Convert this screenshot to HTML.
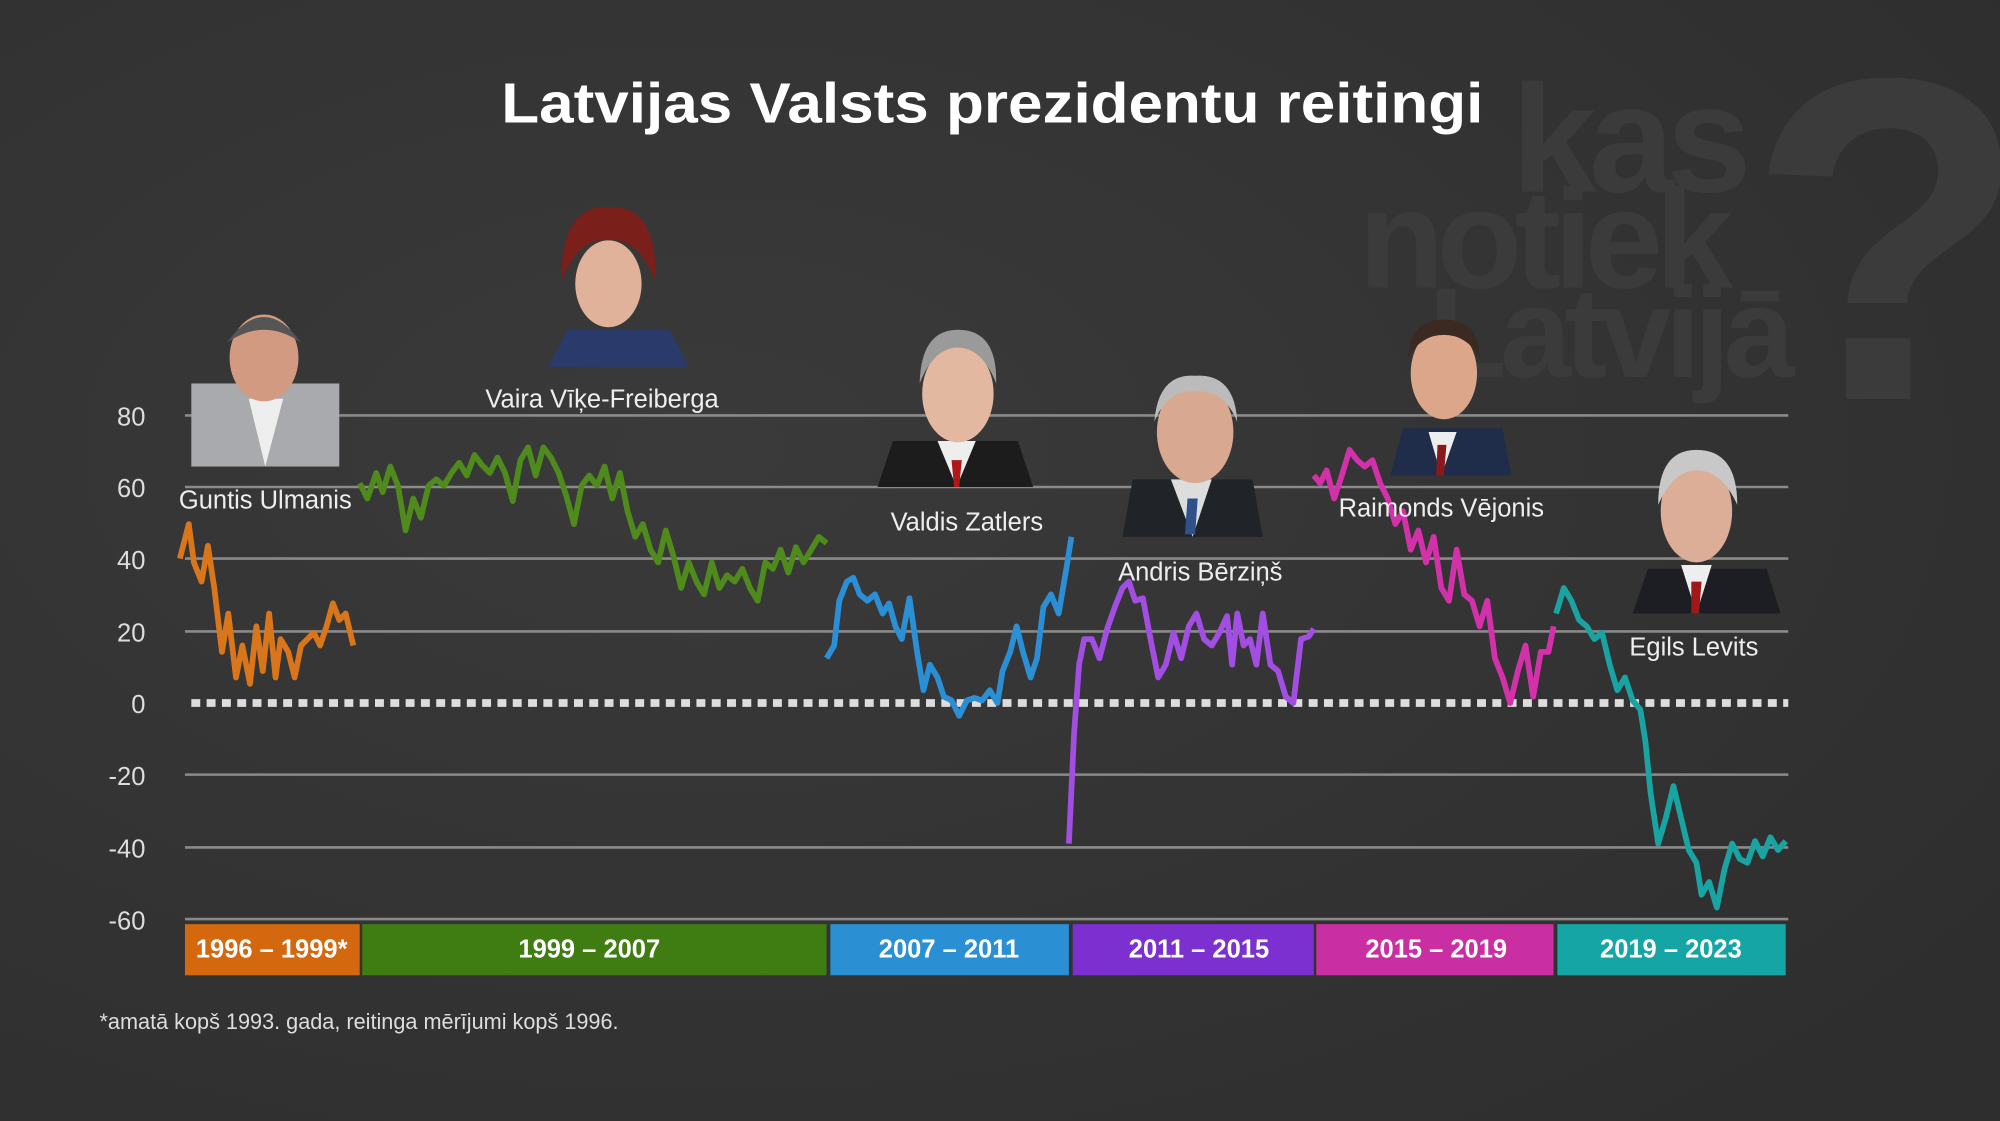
<!DOCTYPE html>
<html><head><meta charset="utf-8"><style>
html,body{margin:0;padding:0;background:#333;}
svg{display:block}
</style></head><body>
<svg width="2000" height="1121" viewBox="0 0 1568 877" preserveAspectRatio="none" xmlns="http://www.w3.org/2000/svg" font-family="Liberation Sans, sans-serif">
<defs>
<radialGradient id="bg" cx="0.35" cy="0.4" r="0.8">
<stop offset="0" stop-color="#3a3a3a"/><stop offset="1" stop-color="#2e2e2e"/>
</radialGradient>
</defs>
<rect width="1568" height="877" fill="url(#bg)"/>
<!-- watermark -->
<g fill="#3b3b3b" font-weight="bold">
<text x="1185" y="150" font-size="120" letter-spacing="-6">kas</text>
<text x="1065" y="225" font-size="110" letter-spacing="-6">notiek</text>
<text x="1120" y="295" font-size="100" letter-spacing="-5">Latvijā</text>
<text x="1370" y="312" font-size="360">?</text>
</g>
<text x="778" y="96" text-anchor="middle" font-size="44" font-weight="bold" fill="#fff" textLength="770" lengthAdjust="spacingAndGlyphs">Latvijas Valsts prezidentu reitingi</text>
<!-- grid -->
<g stroke="#8a8a8a" stroke-width="2">
<line x1="145" y1="325" x2="1402" y2="325"/>
<line x1="145" y1="381" x2="1402" y2="381"/>
<line x1="145" y1="437" x2="1402" y2="437"/>
<line x1="145" y1="494" x2="1402" y2="494"/>
<line x1="145" y1="606" x2="1402" y2="606"/>
<line x1="145" y1="663" x2="1402" y2="663"/>
<line x1="145" y1="719" x2="1402" y2="719"/>
</g>
<line x1="150" y1="550" x2="1402" y2="550" stroke="#ddd" stroke-width="6" stroke-dasharray="7 5"/>
<g fill="#ddd" font-size="20" text-anchor="end">
<text x="114" y="333">80</text><text x="114" y="389">60</text><text x="114" y="445">40</text>
<text x="114" y="502">20</text><text x="114" y="558">0</text><text x="114" y="614">-20</text>
<text x="114" y="671">-40</text><text x="114" y="727">-60</text>
</g>
<!-- bars -->
<rect x="145" y="723" width="137" height="40" fill="#d3680f"/>
<rect x="284" y="723" width="364" height="40" fill="#3f7c12"/>
<rect x="651" y="723" width="187" height="40" fill="#2b8fd4"/>
<rect x="841" y="723" width="189" height="40" fill="#7c30cf"/>
<rect x="1032" y="723" width="186" height="40" fill="#c92ea2"/>
<rect x="1221" y="723" width="179" height="40" fill="#16a5a5"/>
<g fill="#fff" font-size="20" font-weight="bold" text-anchor="middle">
<text x="213" y="749">1996 – 1999*</text><text x="462" y="749">1999 – 2007</text>
<text x="744" y="749">2007 – 2011</text><text x="940" y="749">2011 – 2015</text>
<text x="1126" y="749">2015 – 2019</text><text x="1310" y="749">2019 – 2023</text>
</g>
<text x="78" y="805" fill="#ddd" font-size="17">*amatā kopš 1993. gada, reitinga mērījumi kopš 1996.</text>
<!-- series -->
<g fill="none" stroke-width="4.5" stroke-linejoin="round">
<polyline stroke="#d9761b" points="141,437 148,410 152,440 158,455 163,427 168,460 174,510 179,480 185,530 190,505 196,535 201,490 206,525 211,480 216,530 220,500 226,510 231,530 236,505 241,500 246,495 251,505 256,490 261,472 266,485 271,480 277,505"/>
<polyline stroke="#4e8a1c" points="282,378 288,390 295,370 300,385 306,365 312,380 318,415 324,390 330,405 336,380 342,375 348,380 354,370 360,362 366,372 372,356 378,364 384,370 390,358 396,370 402,392 408,360 414,350 420,372 426,350 432,358 438,370 444,388 450,410 456,380 462,372 468,380 474,365 480,390 486,370 492,400 498,420 504,410 510,430 516,440 522,415 528,435 534,460 540,440 546,455 552,465 558,440 564,460 570,450 576,455 582,445 588,460 594,470 600,440 606,445 612,430 618,448 624,428 630,440 636,430 642,420 648,425"/>
<polyline stroke="#2b8fd6" points="648,515 654,505 658,470 664,455 669,452 674,465 680,470 686,465 692,480 697,472 702,490 707,500 713,468 719,510 724,540 729,520 735,530 740,545 746,548 752,560 758,548 764,546 770,548 776,540 782,550 786,525 792,510 797,490 802,510 808,530 813,515 818,475 824,465 830,480 836,445 840,420"/>
<polyline stroke="#a24ee2" points="838,660 842,575 846,520 850,500 856,500 862,515 868,492 874,475 880,460 885,455 890,470 896,468 902,500 908,530 914,520 920,495 926,515 932,490 938,480 944,500 950,505 956,495 962,482 966,520 970,480 975,505 980,500 985,520 990,480 996,520 1002,525 1008,545 1014,550 1020,500 1026,498 1030,492"/>
<polyline stroke="#d331aa" points="1030,372 1035,378 1040,368 1046,390 1052,372 1058,352 1064,360 1070,365 1076,360 1082,378 1088,390 1094,410 1100,400 1106,430 1112,415 1118,440 1124,420 1130,460 1136,470 1142,430 1148,465 1154,470 1160,490 1166,470 1172,515 1178,530 1184,550 1190,525 1196,505 1202,545 1208,510 1214,510 1218,490"/>
<polyline stroke="#19a3a3" points="1220,480 1226,460 1232,470 1238,485 1244,490 1250,500 1256,495 1262,520 1268,540 1274,530 1280,548 1286,555 1290,580 1294,620 1300,660 1306,640 1312,615 1318,640 1324,665 1330,675 1334,700 1340,690 1346,710 1352,680 1358,660 1364,672 1370,675 1376,658 1382,670 1388,655 1394,665 1400,658"/>
</g>
<!-- photos -->
<g>
<rect x="150" y="300" width="116" height="65" fill="#a8aaad"/><path d="M195 312 L208 365 L222 312 Z" fill="#eee"/>
<ellipse cx="207" cy="280" rx="27" ry="34" fill="#d29a80"/><path d="M178 268 Q207 228 236 268 Q207 248 178 268Z" fill="#555"/>
<path d="M430 287 L445 258 L525 258 L540 287 Z" fill="#2a3a6a"/>
<ellipse cx="477" cy="222" rx="26" ry="34" fill="#e0b29a"/><path d="M440 220 Q440 160 477 162 Q516 160 514 220 Q500 185 477 188 Q454 185 440 220Z" fill="#7a1f1a"/>
<path d="M688 381 L700 345 L798 345 L810 381 Z" fill="#1c1c1c"/><path d="M735 345 L750 381 L765 345 Z" fill="#eee"/><path d="M746 360 L754 360 L752 381 L748 381Z" fill="#b01818"/>
<ellipse cx="751" cy="308" rx="28" ry="38" fill="#e2b8a0"/><path d="M721 300 Q722 258 751 258 Q782 258 781 300 Q770 272 751 272 Q732 272 721 300Z" fill="#9a9a9a"/>
<path d="M880 420 L888 375 L982 375 L990 420 Z" fill="#202428"/><path d="M918 375 L935 420 L950 375 Z" fill="#ddd"/><path d="M931 390 L939 390 L937 418 L929 418Z" fill="#30508a"/>
<ellipse cx="937" cy="338" rx="30" ry="40" fill="#d9a890"/><path d="M905 330 Q908 292 937 294 Q968 292 970 330 Q960 305 937 306 Q915 305 905 330Z" fill="#bbb"/>
<path d="M1090 372 L1100 335 L1178 335 L1185 372 Z" fill="#1f2c4a"/><path d="M1120 338 L1130 372 L1142 338 Z" fill="#eee"/><path d="M1127 348 L1134 348 L1132 372 L1126 372Z" fill="#8a1a1a"/>
<ellipse cx="1132" cy="292" rx="26" ry="36" fill="#dca68a"/><path d="M1104 280 Q1105 250 1132 250 Q1160 250 1160 280 Q1150 262 1132 262 Q1114 262 1104 280Z" fill="#3a2a22"/>
<path d="M1280 480 L1292 445 L1385 445 L1396 480 Z" fill="#1c1e24"/><path d="M1318 442 L1330 480 L1342 442 Z" fill="#eee"/><path d="M1326 455 L1334 455 L1332 480 L1326 480Z" fill="#a01818"/>
<ellipse cx="1330" cy="400" rx="28" ry="40" fill="#dcae98"/><path d="M1300 395 Q1300 352 1330 352 Q1362 352 1362 395 Q1350 368 1330 368 Q1312 368 1300 395Z" fill="#c8c8c8"/>
</g>
<g fill="#eee" font-size="20" text-anchor="middle">
<text x="208" y="398">Guntis Ulmanis</text>
<text x="472" y="319">Vaira Vīķe-Freiberga</text>
<text x="758" y="415">Valdis Zatlers</text>
<text x="941" y="454">Andris Bērziņš</text>
<text x="1130" y="404">Raimonds Vējonis</text>
<text x="1328" y="513">Egils Levits</text>
</g>
</svg>
</body></html>
